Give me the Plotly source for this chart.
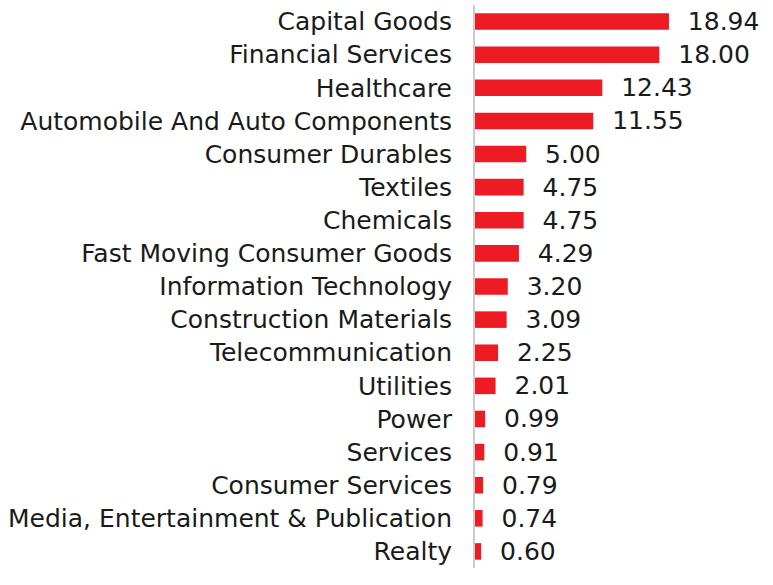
import plotly.graph_objects as go

categories = ["Capital Goods", "Financial Services", "Healthcare",
              "Automobile And Auto Components", "Consumer Durables", "Textiles",
              "Chemicals", "Fast Moving Consumer Goods", "Information Technology",
              "Construction Materials", "Telecommunication", "Utilities", "Power",
              "Services", "Consumer Services", "Media, Entertainment & Publication",
              "Realty"]
values = [18.94, 18.00, 12.43, 11.55, 5.00, 4.75, 4.75, 4.29, 3.20, 3.09,
          2.25, 2.01, 0.99, 0.91, 0.79, 0.74, 0.60]

FONT = "DejaVu Sans"

fig = go.Figure(go.Bar(
    x=values, y=categories, orientation="h",
    marker=dict(color="#ED1C24", line=dict(width=0)),
    width=0.5,
    text=[f"  {v:.2f}" for v in values], textposition="outside",
    constraintext="none",
    textfont=dict(size=25, color="#1a1a1a", family=FONT),
    cliponaxis=False,
))
fig.update_layout(
    width=773, height=585,
    margin=dict(l=475, r=0, t=5, b=17),
    paper_bgcolor="white", plot_bgcolor="white",
    showlegend=False,
    font=dict(family=FONT, size=25, color="#1a1a1a"),
    xaxis=dict(range=[0, 29.1], visible=False, showgrid=False, zeroline=False),
    yaxis=dict(autorange="reversed", showgrid=False, zeroline=False,
               showline=True, linecolor="#cccccc", linewidth=2,
               ticks="", ticklabelstandoff=16,
               tickfont=dict(size=25, color="#1a1a1a", family=FONT)),
)
fig.write_html("out.html")
